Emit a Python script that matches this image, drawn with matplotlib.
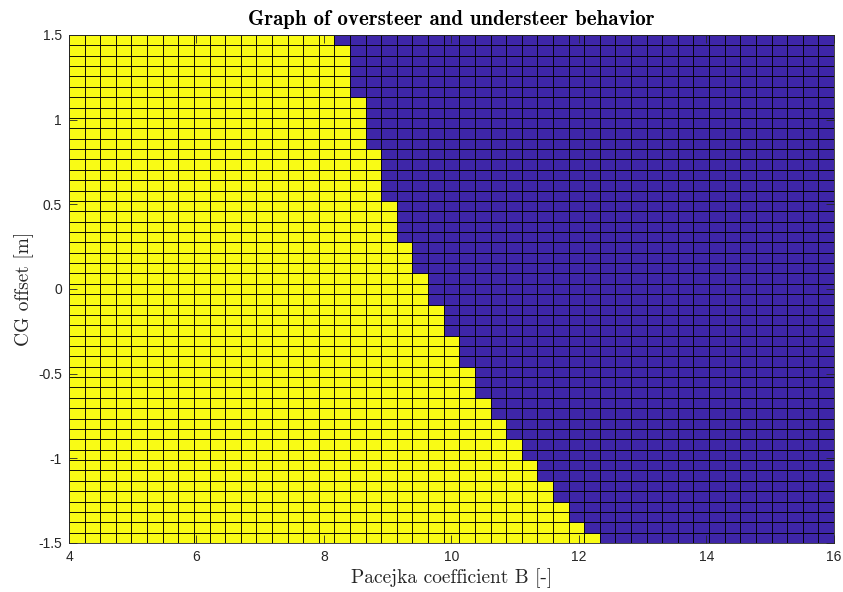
import numpy as np
import matplotlib
matplotlib.use("Agg")
import matplotlib.pyplot as plt
from matplotlib.colors import ListedColormap

# Grid of Pacejka B coefficients and CG offsets
pacejka_b = np.linspace(4, 16, 50)
cg_offset = np.linspace(-1.5, 1.5, 50)

# Number of cells (from the left) flagged as behaviour 1 in each CG-offset row,
# listed from the lowest offset row to the highest
flagged_cols = [34, 33, 32, 32, 31, 31, 30, 30, 29, 29, 28, 28, 27, 27,
                26, 26, 26, 25, 25, 25, 24, 24, 24, 23, 23, 23, 22, 22, 22,
                21, 21, 21, 21, 20, 20, 20, 20, 20, 19, 19, 19, 19, 19,
                18, 18, 18, 18, 18, 17]

x_ticks = [4, 6, 8, 10, 12, 14, 16]
y_ticks = [-1.5, -1, -0.5, 0, 0.5, 1, 1.5]
y_tick_labels = ["-1.5", "-1", "-0.5", "0", "0.5", "1", "1.5"]

n_rows = len(cg_offset) - 1
n_cols = len(pacejka_b) - 1
behaviour = np.zeros((n_rows, n_cols))
for r, n in enumerate(flagged_cols):
    behaviour[r, :n] = 1.0

cmap = ListedColormap([(0.2422, 0.1504, 0.6603), (0.9769, 0.9839, 0.0805)])

fig = plt.figure(figsize=(8.43, 5.92), dpi=100)
ax = fig.add_axes([69 / 843, 1 - 543 / 592, 765 / 843, 508 / 592])

ax.pcolormesh(pacejka_b, cg_offset, behaviour, cmap=cmap, vmin=0, vmax=1,
              edgecolors="black", linewidth=0.6, antialiased=True)

ax.set_xlim(4, 16)
ax.set_ylim(-1.5, 1.5)
ax.set_xticks(x_ticks)
ax.set_xticklabels([str(t) for t in x_ticks])
ax.set_yticks(y_ticks)
ax.set_yticklabels(y_tick_labels)

axis_gray = (0.15, 0.15, 0.15)
ax.tick_params(direction="in", length=6, width=0.6, top=True, right=True,
               colors=axis_gray, labelsize=10, pad=5)
for lbl in ax.get_xticklabels() + ax.get_yticklabels():
    lbl.set_fontfamily("Liberation Sans")
for sp in ax.spines.values():
    sp.set_color(axis_gray)
    sp.set_linewidth(0.6)

ax.set_title("Graph of oversteer and understeer behavior",
             fontfamily="cmb10", fontsize=15, color="black", pad=7)
ax.set_xlabel("Pacejka coefficient B [-]", fontfamily="cmr10",
              fontsize=14, color=axis_gray, labelpad=3)
ax.set_ylabel("CG offset [m]", fontfamily="cmr10", fontsize=14,
              color=axis_gray, labelpad=3)

fig.savefig("out.png", dpi=100, facecolor="white")
